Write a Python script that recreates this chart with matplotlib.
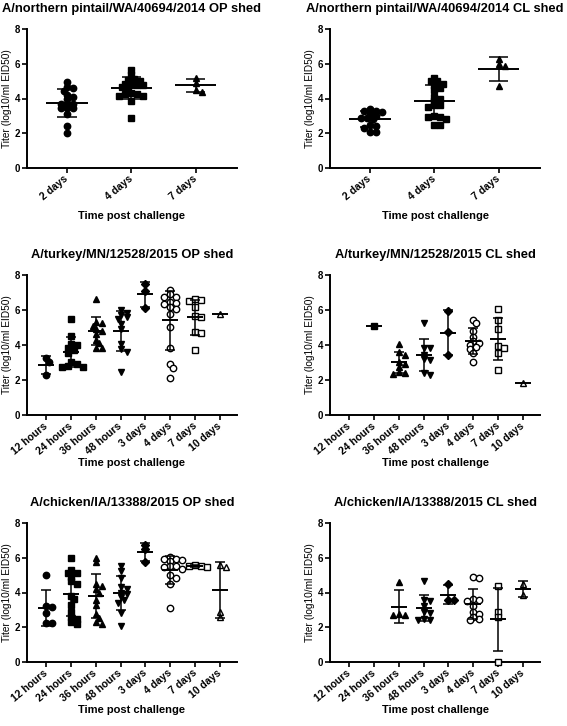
import numpy as np
import matplotlib.pyplot as plt

plt.rcParams['font.family'] = ['Liberation Sans', 'DejaVu Sans']

# category labels
days3 = ["2 days", "4 days", "7 days"]
times8 = ["12 hours", "24 hours", "36 hours", "48 hours",
          "3 days", "4 days", "7 days", "10 days"]

# titers (log10/ml EID50)
np_op = [
    [4.95, 4.65, 4.6, 4.45, 4.2, 4.1, 3.95, 3.7, 3.7, 3.7, 3.45, 3.45, 3.45, 3.1, 2.4, 2.0],
    [5.65, 5.35, 5.15, 5.05, 5.0, 4.85, 4.85, 4.8, 4.8, 4.65, 4.65, 4.3, 4.25, 4.25, 4.15, 4.15, 3.85, 2.9],
    [5.2, 4.9, 4.5, 4.4],
]
np_cl = [
    [3.4, 3.3, 3.3, 3.2, 3.1, 3.0, 2.9, 2.85, 2.8, 2.45, 2.4, 2.3, 2.1, 2.1],
    [5.2, 5.0, 5.0, 4.85, 4.75, 4.6, 4.5, 4.1, 4.0, 3.85, 3.6, 3.6, 3.5, 3.0, 2.95, 2.95, 2.8, 2.5, 2.5],
    [6.25, 6.0, 5.85, 4.7],
]
tk_op = [
    [3.25, 3.05, 2.3],
    [5.5, 4.5, 4.05, 4.0, 3.85, 3.7, 3.55, 3.0, 2.9, 2.8, 2.75, 2.75],
    [6.6, 5.3, 5.25, 5.1, 4.9, 4.8, 4.6, 4.3, 4.1, 3.85, 3.85],
    [6.0, 5.85, 5.7, 5.6, 5.5, 5.2, 4.9, 4.05, 3.75, 3.6, 2.45],
    [7.5, 7.1, 6.1],
    [7.15, 6.9, 6.75, 6.75, 6.45, 6.4, 6.35, 6.15, 6.05, 5.75, 5.05, 3.85, 2.9, 2.7, 2.1],
    [6.6, 6.55, 6.5, 6.15, 5.65, 5.6, 4.75, 4.7, 3.7],
    [5.75],
]
tk_cl = [
    [],
    [5.1],
    [4.05, 3.6, 3.45, 3.05, 2.9, 2.75, 2.45, 2.4, 2.35],
    [5.25, 3.85, 3.8, 3.45, 3.2, 3.15, 2.4, 2.3],
    [5.95, 4.75, 3.4],
    [5.45, 5.25, 4.8, 4.45, 4.2, 4.1, 4.0, 3.9, 3.75, 3.55, 3.05],
    [6.05, 5.45, 4.9, 3.95, 3.8, 3.55, 2.55],
    [1.8],
]
ck_op = [
    [5.0, 3.25, 3.15, 2.8, 2.25, 2.25],
    [6.0, 5.3, 5.15, 5.1, 4.9, 4.65, 4.5, 3.8, 3.6, 3.3, 2.9, 2.6, 2.5, 2.3, 2.2],
    [6.0, 5.75, 4.5, 4.35, 4.2, 4.0, 3.55, 3.3, 2.75, 2.55, 2.3, 2.2],
    [5.5, 5.25, 4.85, 4.3, 4.2, 4.0, 3.9, 3.75, 3.55, 3.4, 2.8, 2.1],
    [6.75, 6.5, 5.75],
    [6.05, 5.95, 5.9, 5.85, 5.8, 5.55, 5.5, 5.45, 5.35, 5.0, 4.85, 4.5, 3.1],
    [5.6, 5.55, 5.5, 5.45],
    [5.6, 5.45, 2.85, 2.6],
]
ck_cl = [
    [],
    [],
    [4.6, 2.75, 2.7, 2.7],
    [4.65, 3.55, 3.5, 3.2, 2.9, 2.8, 2.45, 2.4, 2.4],
    [4.5, 3.55, 3.55],
    [4.9, 4.85, 3.6, 3.55, 3.5, 3.2, 2.85, 2.75, 2.6, 2.5, 2.4],
    [4.35, 2.85, 2.6, 0.0],
    [4.5, 3.85],
]

titles = ["A/northern pintail/WA/40694/2014 OP shed",
          "A/northern pintail/WA/40694/2014 CL shed",
          "A/turkey/MN/12528/2015 OP shed",
          "A/turkey/MN/12528/2015 CL shed",
          "A/chicken/IA/13388/2015 OP shed",
          "A/chicken/IA/13388/2015 CL shed"]

markers3 = [("o", True), ("s", True), ("^", True)]
markers8 = [("o", True), ("s", True), ("^", True), ("v", True),
            ("D", True), ("o", False), ("s", False), ("^", False)]

W, H = 567, 726
fig = plt.figure(figsize=(W / 100, H / 100), dpi=100)


def swarm_offsets(vals, xpu, ypu, d):
    # simple beeswarm in pixel space, returns x offsets in data units
    placed = []
    offs = []
    cands = [0]
    for i in range(1, 30):
        cands += [i, -i]
    for v in vals:
        yp = v * ypu
        for k in cands:
            xp = k * d * 0.5
            ok = True
            for (px, py) in placed:
                if (px - xp) ** 2 + (py - yp) ** 2 < (0.72 * d) ** 2:
                    ok = False
                    break
            if ok:
                break
        placed.append((xp, yp))
        offs.append(xp / xpu)
    return offs


def panel(rect_px, title, labels, groups, markers, xlim, cap):
    l, r, t, b = rect_px
    ax = fig.add_axes([l / W, 1 - b / H, (r - l) / W, (b - t) / H])
    ax.set_xlim(*xlim)
    ax.set_ylim(0, 8)
    xpu = (r - l) / (xlim[1] - xlim[0])
    ypu = (b - t) / 8.0
    for i, vals in enumerate(groups):
        if len(vals) == 0:
            continue
        m, filled = markers[i]
        ms = 3.6 if m == "D" else 4.6
        ys = sorted(vals, reverse=True)
        offs = swarm_offsets(ys, xpu, ypu, 6.0)
        ax.plot(np.array(offs) + i, ys, linestyle="none", marker=m,
                markersize=ms, markerfacecolor="black" if filled else "white",
                markeredgecolor="black", markeredgewidth=1.0, clip_on=False, zorder=3)
        mu = np.mean(vals)
        sd = np.std(vals, ddof=1) if len(vals) > 1 else 0.0
        ax.hlines(mu, i - 0.32, i + 0.32, color="black", lw=1.4, zorder=4)
        if sd > 0:
            ax.vlines(i, mu - sd, mu + sd, color="black", lw=1.1, zorder=4)
            ax.hlines([mu - sd, mu + sd], i - cap, i + cap, color="black", lw=1.1, zorder=4)
    for s in ["top", "right"]:
        ax.spines[s].set_visible(False)
    ax.spines["left"].set_linewidth(1.4)
    ax.spines["bottom"].set_linewidth(1.4)
    ax.set_yticks([0, 2, 4, 6, 8])
    ax.set_xticks(range(len(labels)))
    ax.set_xticklabels(labels, rotation=40, ha="right", va="center",
                       rotation_mode="anchor", fontsize=7.5, fontweight="bold")
    ax.tick_params(axis="both", width=1.2, length=3.5, pad=1.5)
    ax.tick_params(axis="x", pad=3.5)
    for lab in ax.get_yticklabels():
        lab.set_fontsize(7)
        lab.set_fontweight("bold")
    ax.set_title(title, fontsize=9.3, fontweight="bold", pad=12.5)
    ax.set_ylabel("Titer (log10/ml EID50)", fontsize=7.3, va="center")
    ax.yaxis.set_label_coords(-20 / (r - l), 0.5)
    ax.set_xlabel("Time post challenge", fontsize=8, fontweight="bold", va="center")
    ax.xaxis.set_label_coords(0.5, -48 / (b - t))
    return ax


panel((27, 237, 29, 168), titles[0], days3, np_op, markers3, (-0.62, 2.64), 0.15)
panel((330, 540, 29, 168), titles[1], days3, np_cl, markers3, (-0.62, 2.64), 0.15)
panel((27, 237, 275, 415), titles[2], times8, tk_op, markers8, (-0.76, 7.68), 0.2)
panel((330, 540, 275, 415), titles[3], times8, tk_cl, markers8, (-0.76, 7.68), 0.2)
panel((27, 237, 523, 662), titles[4], times8, ck_op, markers8, (-0.76, 7.68), 0.2)
panel((330, 540, 523, 662), titles[5], times8, ck_cl, markers8, (-0.76, 7.68), 0.2)

plt.savefig("out.png", dpi=100)
